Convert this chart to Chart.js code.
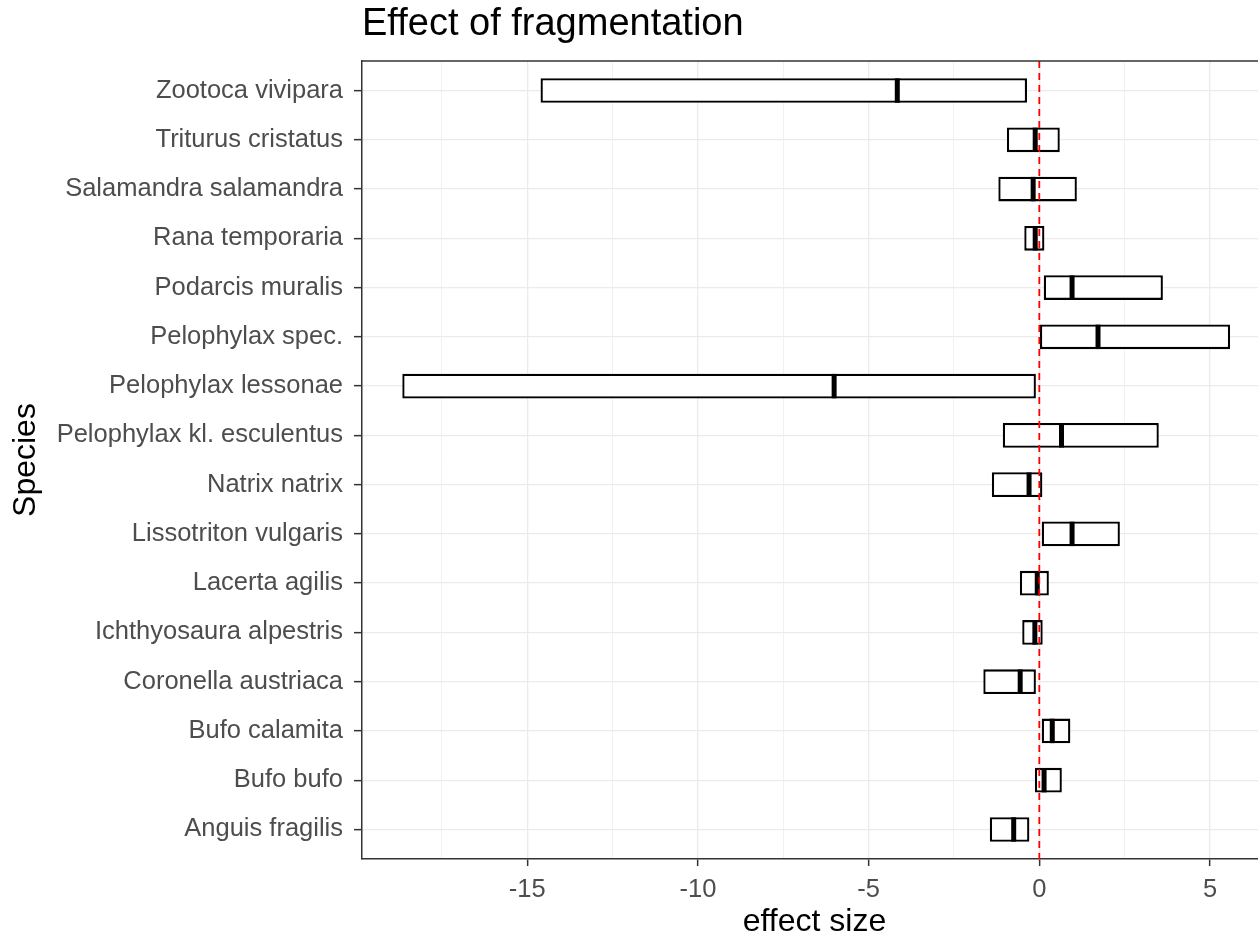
<!DOCTYPE html>
<html>
<head>
<meta charset="utf-8">
<title>Effect of fragmentation</title>
<script src="https://cdn.jsdelivr.net/npm/chart.js@4.4.1/dist/chart.umd.min.js"></script>
<style>
    html, body { margin: 0; padding: 0; background: #fff; overflow: hidden; }
    #wrap { width: 1267px; height: 937px; }
</style>
</head>
<body>
<div id="wrap"><canvas id="fragChart" width="1267" height="937"></canvas></div>
<script>
// Species, top to bottom as in the figure
const species = [
    'Zootoca vivipara', 'Triturus cristatus', 'Salamandra salamandra', 'Rana temporaria',
    'Podarcis muralis', 'Pelophylax spec.', 'Pelophylax lessonae', 'Pelophylax kl. esculentus',
    'Natrix natrix', 'Lissotriton vulgaris', 'Lacerta agilis', 'Ichthyosaura alpestris',
    'Coronella austriaca', 'Bufo calamita', 'Bufo bufo', 'Anguis fragilis'
];
// Box extents and middle value of the effect size
const lower = [-14.61, -0.95, -1.20, -0.44, 0.13, 0.02, -18.66, -1.07,
               -1.39, 0.07, -0.57, -0.50, -1.64, 0.07, -0.13, -1.45];
const upper = [-0.36, 0.60, 1.10, 0.15, 3.62, 5.59, -0.10, 3.50,
               0.09, 2.36, 0.28, 0.10, -0.10, 0.91, 0.66, -0.29];
const middle = [-4.16, -0.12, -0.18, -0.12, 0.96, 1.72, -6.01, 0.65,
                -0.30, 0.96, -0.06, -0.13, -0.56, 0.38, 0.14, -0.75];
// x axis ticks (majors get labels, the rest are minor grid lines)
const xTicks = [-17.5, -15, -12.5, -10, -7.5, -5, -2.5, 0, 2.5, 5];
const xLabelled = [-15, -10, -5, 0, 5];

const FONT = "'Liberation Sans', Arial, sans-serif";
const isMajor = v => xLabelled.includes(v);

// red dashed reference line at zero and the top panel border
const panelExtras = {
    id: 'panelExtras',
    afterDatasetsDraw(chart) {
        const {ctx, chartArea} = chart;
        const x0 = chart.scales.x.getPixelForValue(0);
        ctx.save();
        ctx.strokeStyle = '#FF0000';
        ctx.lineWidth = 1.8;
        ctx.setLineDash([7, 5]);
        ctx.beginPath();
        ctx.moveTo(x0, chartArea.top);
        ctx.lineTo(x0, chartArea.bottom);
        ctx.stroke();
        ctx.setLineDash([]);
        ctx.strokeStyle = '#333333';
        ctx.lineWidth = 1.5;
        ctx.beginPath();
        ctx.moveTo(chartArea.left, chartArea.top);
        ctx.lineTo(chartArea.right, chartArea.top);
        ctx.stroke();
        ctx.restore();
    }
};

const ctx = document.getElementById('fragChart').getContext('2d');
new Chart(ctx, {
    type: 'bar',
    data: {
        datasets: [
            {
                type: 'bar',
                label: 'range',
                order: 2,
                data: species.map((s, i) => ({ y: i, x: [lower[i], upper[i]] })),
                backgroundColor: '#FFFFFF',
                borderColor: '#000000',
                borderWidth: 2.3,
                borderSkipped: false,
                barPercentage: 0.5,
                categoryPercentage: 1.0
            },
            {
                type: 'scatter',
                label: 'middle',
                order: 1,
                data: species.map((s, i) => ({ x: middle[i], y: i })),
                pointStyle: 'line',
                pointRotation: 90,
                pointRadius: 12.2,
                pointBorderWidth: 5,
                pointBorderColor: '#000000',
                pointBackgroundColor: '#000000'
            }
        ]
    },
    options: {
        indexAxis: 'y',
        responsive: false,
        animation: false,
        layout: { padding: 0, autoPadding: false },
        plugins: {
            legend: { display: false },
            tooltip: { enabled: false },
            title: {
                display: true,
                text: 'Effect of fragmentation',
                align: 'start',
                fullSize: false,
                color: '#000000',
                font: { family: FONT, size: 38, weight: 'normal', lineHeight: 1.2 },
                padding: { top: 1.5, bottom: 13.9 }
            }
        },
        scales: {
            x: {
                type: 'linear',
                min: -19.84,
                max: 6.67,
                afterBuildTicks: scale => { scale.ticks = xTicks.map(v => ({ value: v })); },
                afterFit: scale => {
                    scale.height = 78;
                    scale.paddingLeft = 0;
                    scale.paddingRight = 0;
                },
                grid: {
                    color: '#EBEBEB',
                    lineWidth: c => (c.tick && isMajor(c.tick.value)) ? 1.3 : 0.7,
                    tickColor: c => (c.tick && isMajor(c.tick.value)) ? '#333333' : 'rgba(0,0,0,0)',
                    tickLength: 7,
                    tickWidth: 1.5
                },
                border: { display: true, color: '#333333', width: 1.5 },
                ticks: {
                    autoSkip: false,
                    maxRotation: 0,
                    padding: 9,
                    color: '#4D4D4D',
                    font: { family: FONT, size: 25.5 },
                    callback: v => isMajor(v) ? String(v) : ''
                },
                title: {
                    display: true,
                    text: 'effect size',
                    color: '#000000',
                    font: { family: FONT, size: 32, lineHeight: 1 },
                    padding: { top: 0, bottom: -1.2 }
                }
            },
            y: {
                type: 'linear',
                reverse: true,
                offset: false,
                min: -0.6,
                max: species.length - 0.4,
                afterBuildTicks: scale => { scale.ticks = species.map((s, i) => ({ value: i })); },
                afterFit: scale => {
                    scale.width = 362;
                    scale.paddingTop = 0;
                    scale.paddingBottom = 0;
                },
                grid: {
                    offset: false,
                    color: '#EBEBEB',
                    lineWidth: 1.3,
                    tickColor: '#333333',
                    tickLength: 8,
                    tickWidth: 1.5
                },
                border: { display: true, color: '#333333', width: 1.5 },
                ticks: {
                    autoSkip: false,
                    padding: 11,
                    color: '#4D4D4D',
                    font: { family: FONT, size: 25.5 },
                    callback: v => species[v]
                },
                title: {
                    display: true,
                    text: 'Species',
                    color: '#000000',
                    font: { family: FONT, size: 32, lineHeight: 1.2 },
                    padding: { top: 7, bottom: 0 }
                }
            }
        }
    },
    plugins: [panelExtras]
});
</script>
</body>
</html>
